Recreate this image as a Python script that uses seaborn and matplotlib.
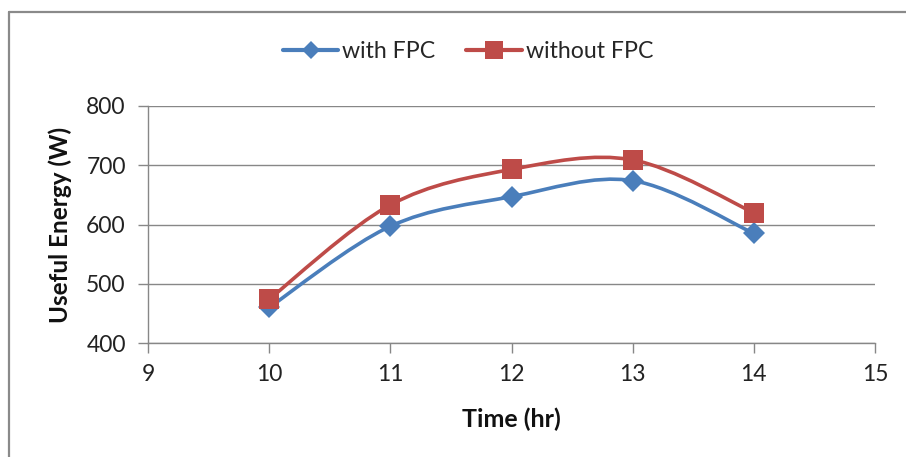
import numpy as np
import pandas as pd
import matplotlib
matplotlib.use("Agg")
import matplotlib.pyplot as plt
from matplotlib.path import Path
from matplotlib.patches import PathPatch
from matplotlib.lines import Line2D
import seaborn as sns

# ---- data ----
time_hr = [10, 11, 12, 13, 14]
with_fpc = [460, 597, 647, 674, 585]
without_fpc = [474, 633, 693, 709, 620]
series_names = ["with FPC", "without FPC"]
x_ticks = [9, 10, 11, 12, 13, 14, 15]
y_ticks = [400, 500, 600, 700, 800]

BLUE = "#4A7EBB"
RED = "#BE4B48"
GRID = "#878787"

sns.set_theme(style="white")
plt.rcParams["font.family"] = ["Lato", "DejaVu Sans"]

df = pd.DataFrame({
    "Time (hr)": time_hr * 2,
    "Useful Energy (W)": with_fpc + without_fpc,
    "series": [series_names[0]] * len(time_hr) + [series_names[1]] * len(time_hr),
})

fig = plt.figure(figsize=(9.06, 4.57), dpi=100)
ax = fig.add_axes([148 / 906, 1 - 343 / 457, (875 - 148) / 906, (343 - 106) / 457])


def smooth_path(xs, ys):
    pts = np.column_stack([xs, ys]).astype(float)
    n = len(pts)
    verts = [pts[0]]
    codes = [Path.MOVETO]
    for i in range(n - 1):
        p0 = pts[i - 1] if i > 0 else pts[i]
        p1 = pts[i]
        p2 = pts[i + 1]
        p3 = pts[i + 2] if i + 2 < n else pts[i + 1]
        verts += [p1 + (p2 - p0) / 6, p2 - (p3 - p1) / 6, p2]
        codes += [Path.CURVE4] * 3
    return Path(verts, codes)


for vals, col in [(with_fpc, BLUE), (without_fpc, RED)]:
    ax.add_patch(PathPatch(smooth_path(time_hr, vals), facecolor="none",
                           edgecolor=col, lw=2.6, zorder=3, capstyle="round"))

sns.lineplot(data=df, x="Time (hr)", y="Useful Energy (W)", hue="series",
             style="series", markers={"with FPC": "D", "without FPC": "s"},
             dashes=False, palette={"with FPC": BLUE, "without FPC": RED},
             linewidth=0, markeredgewidth=0, legend=False, ax=ax, zorder=4)
for ln, ms in zip(ax.lines, [11, 14.5]):
    ln.set_markersize(ms)

ax.set_xlim(9, 15)
ax.set_ylim(400, 800)
ax.set_xticks(x_ticks)
ax.set_yticks(y_ticks)
ax.grid(axis="y", color=GRID, lw=1)
ax.grid(axis="x", visible=False)
for s in ["top", "right"]:
    ax.spines[s].set_visible(False)
for s in ["left", "bottom"]:
    ax.spines[s].set_color(GRID)
    ax.spines[s].set_linewidth(1)
ax.tick_params(axis="both", which="major", direction="out", length=7, width=1,
               color=GRID, labelsize=16.5, labelcolor="#222222")
ax.tick_params(axis="y", pad=9)
ax.tick_params(axis="x", pad=8)
ax.tick_params(left=True, bottom=True)

ax.set_xlabel("Time (hr)", fontsize=18, fontweight="bold", color="#111111")
ax.set_ylabel("Useful Energy (W)", fontsize=17.5, fontweight="bold", color="#111111")
ax.xaxis.set_label_coords((511 - 148) / 727, (343 - 419) / 237)
ax.xaxis.label.set_va("center")
ax.yaxis.set_label_coords((60 - 148) / 727, 0.5)
ax.yaxis.label.set_va("center")

handles = [
    Line2D([], [], color=BLUE, lw=3, marker="D", markersize=9.5, markeredgewidth=0),
    Line2D([], [], color=RED, lw=3, marker="s", markersize=12.5, markeredgewidth=0),
]
fig.legend(handles, series_names, loc="center", bbox_to_anchor=(468 / 906, 1 - 52 / 457),
           ncol=2, frameon=False, fontsize=16.7, handlelength=2.4, handletextpad=0.17,
           columnspacing=1.33)

# outer chart border (left and top only visible)
fig.add_artist(Line2D([9 / 906, 9 / 906], [0, 1 - 12 / 457], transform=fig.transFigure,
                      color="#8a8a8a", lw=1.6))
fig.add_artist(Line2D([9 / 906, 1], [1 - 12 / 457, 1 - 12 / 457], transform=fig.transFigure,
                      color="#8a8a8a", lw=1.6))

fig.savefig("out.png", dpi=100, facecolor="white")
